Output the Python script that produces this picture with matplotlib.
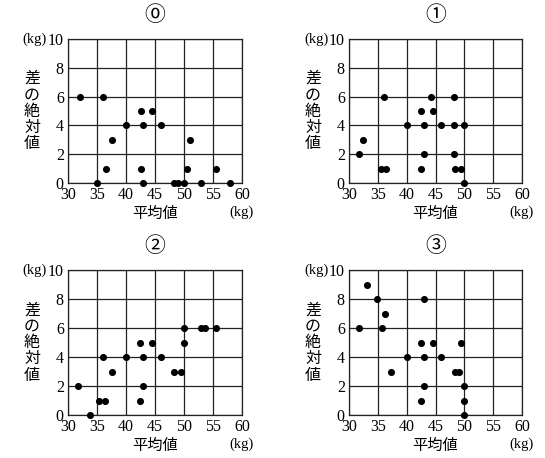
import matplotlib
matplotlib.use("Agg")
import matplotlib.pyplot as plt

titles = ["⓪", "①", "②", "③"]
x_ticks = [30, 35, 40, 45, 50, 55, 60]
y_ticks = [0, 2, 4, 6, 8, 10]
x_label = "平均値"
y_label = "差の絶対値"
unit = "(kg)"

p0_x = [32, 36, 42.5, 44.5, 40, 43, 46, 37.5, 51, 36.5, 42.5, 50.5, 55.5, 35, 43, 48.3, 49, 50, 53, 58]
p0_y = [6, 6, 5, 5, 4, 4, 4, 3, 3, 1, 1, 1, 1, 0, 0, 0, 0, 0, 0, 0]

p1_x = [36, 44.2, 48.2, 42.5, 44.5, 40, 43, 46, 48.2, 50, 32.5, 31.8, 43, 48.2, 35.5, 36.5, 42.5, 48.3, 49.4, 50]
p1_y = [6, 6, 6, 5, 5, 4, 4, 4, 4, 4, 3, 2, 2, 2, 1, 1, 1, 1, 1, 0]

p2_x = [31.8, 33.8, 35.3, 36.3, 36, 37.5, 40, 42.4, 44.4, 43, 46, 43, 42.4, 48.3, 49.4, 50, 50, 53, 53.6, 55.6]
p2_y = [2, 0, 1, 1, 4, 3, 4, 5, 5, 4, 4, 2, 1, 3, 3, 6, 5, 6, 6, 6]

p3_x = [33.2, 34.8, 43, 36.2, 31.7, 35.8, 42.5, 44.5, 49.5, 40, 43, 46, 37.3, 48.4, 49.1, 43, 50, 42.5, 50, 50]
p3_y = [9, 8, 8, 7, 6, 6, 5, 5, 5, 4, 4, 4, 3, 3, 3, 2, 2, 1, 1, 0]

series = [(p0_x, p0_y), (p1_x, p1_y), (p2_x, p2_y), (p3_x, p3_y)]

W, H = 545, 458
fig = plt.figure(figsize=(W / 100, H / 100), dpi=100)

# axes boxes in pixels: (left, top, right, bottom)
boxes = [(68, 39, 242, 183), (349, 39, 522, 183), (68, 270, 242, 415), (349, 270, 522, 415)]

serif = ["Liberation Serif", "DejaVu Serif"]
jp = ["Noto Sans CJK JP", "DejaVu Sans"]

for (l, t, r, b), (xs, ys), title in zip(boxes, series, titles):
    ax = fig.add_axes([l / W, 1 - b / H, (r - l) / W, (b - t) / H])
    ax.set_xlim(30, 60)
    ax.set_ylim(0, 10)
    ax.set_xticks(x_ticks)
    ax.set_yticks(y_ticks)
    ax.set_xticklabels([str(v) for v in x_ticks], fontfamily=serif, fontsize=11.5)
    ax.set_yticklabels([str(v) for v in y_ticks], fontfamily=serif, fontsize=11.5)
    ax.tick_params(length=0, pad=3)
    ax.grid(True, color="#222222", linewidth=0.9)
    ax.set_axisbelow(True)
    for s in ax.spines.values():
        s.set_color("#222222")
        s.set_linewidth(0.9)
    ax.scatter(xs, ys, s=26, color="black", zorder=3, clip_on=False, linewidths=0)
    ax.text(0.5, 1 + 24 / (b - t), title, transform=ax.transAxes, ha="center", va="center",
            fontsize=15, family=jp)
    # y unit left of "10"
    ax.text(-0.12, 1.0, unit, transform=ax.transAxes, ha="right", va="center",
            fontsize=10.5, family=serif)
    # x unit
    ax.text(1.0, -29 / (b - t), unit, transform=ax.transAxes, ha="center",
            va="center", fontsize=10.5, family=serif)
    ax.text(0.5, -30 / (b - t), x_label, transform=ax.transAxes, ha="center", va="center",
            fontsize=11, family=jp)
    ax.text(-36 / (r - l), 0.5, "\n".join(y_label), transform=ax.transAxes, ha="center",
            va="center", fontsize=11.5, family=jp, linespacing=0.95)

fig.savefig("out.png", dpi=100)
